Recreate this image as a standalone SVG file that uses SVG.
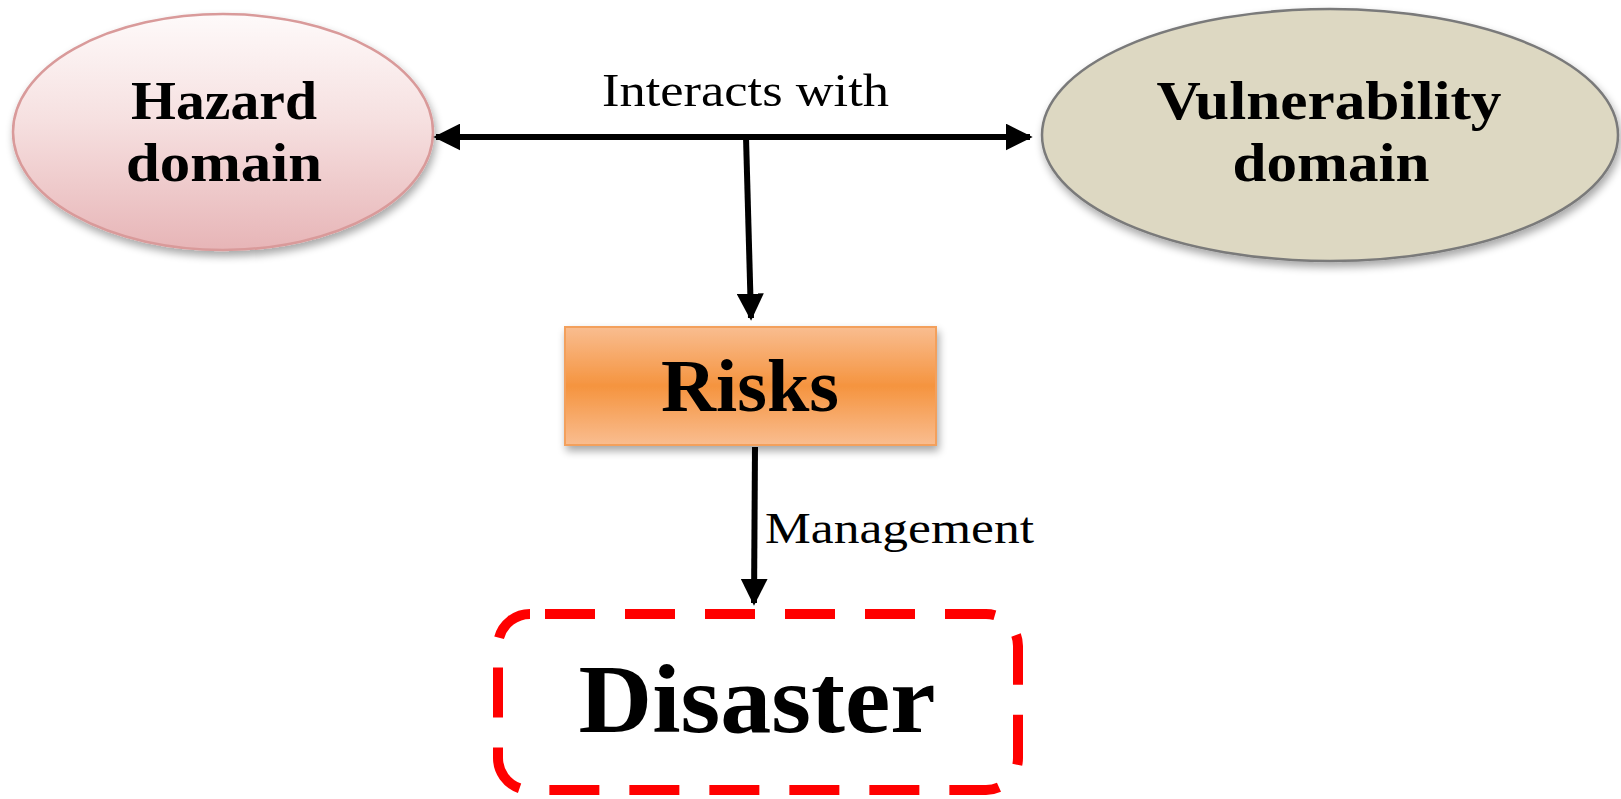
<svg xmlns="http://www.w3.org/2000/svg" width="1621" height="799" viewBox="0 0 1621 799">
<defs>
<linearGradient id="gHaz" x1="0" y1="0" x2="0" y2="1">
<stop offset="0" stop-color="#fefafa"/>
<stop offset="0.45" stop-color="#f6e0e0"/>
<stop offset="1" stop-color="#e7b5b7"/>
</linearGradient>
<linearGradient id="gRisk" x1="0" y1="0" x2="0" y2="1">
<stop offset="0" stop-color="#f9bd90"/>
<stop offset="0.5" stop-color="#f5943f"/>
<stop offset="1" stop-color="#f9bd90"/>
</linearGradient>
<filter id="sh" x="-10%" y="-10%" width="125%" height="130%">
<feGaussianBlur in="SourceAlpha" stdDeviation="4"/>
<feOffset dx="2" dy="5" result="b"/>
<feComponentTransfer><feFuncA type="linear" slope="0.35"/></feComponentTransfer>
<feMerge><feMergeNode/><feMergeNode in="SourceGraphic"/></feMerge>
</filter>
<marker id="ah" viewBox="0 0 10 10" refX="9" refY="5" markerWidth="4.5" markerHeight="4.5" orient="auto-start-reverse" markerUnits="strokeWidth">
<path d="M0,0 L10,5 L0,10 z" fill="#000"/>
</marker>
<style>
.title{font-family:"Liberation Serif","DejaVu Serif",serif;font-weight:bold;fill:#000;text-anchor:middle}
.lbl{font-family:"Liberation Serif","DejaVu Serif",serif;fill:#000}
.conn{stroke:#000;stroke-width:6;fill:none}
</style>
</defs>
<g id="hazard">
<ellipse cx="223" cy="132" rx="210" ry="118" fill="url(#gHaz)" stroke="#d99a9a" stroke-width="2.5" filter="url(#sh)"/>
<text class="title" x="224" y="119" font-size="54" textLength="186" lengthAdjust="spacingAndGlyphs">Hazard</text>
<text class="title" x="224" y="181" font-size="54" textLength="196" lengthAdjust="spacingAndGlyphs">domain</text>
</g>
<g id="vulnerability">
<ellipse cx="1330" cy="135" rx="288" ry="126" fill="#ddd8c2" stroke="#7a7a7a" stroke-width="2.5" filter="url(#sh)"/>
<text class="title" x="1329" y="119" font-size="54" textLength="345" lengthAdjust="spacingAndGlyphs">Vulnerability</text>
<text class="title" x="1331" y="181" font-size="54" textLength="197" lengthAdjust="spacingAndGlyphs">domain</text>
</g>
<g id="risks">
<rect x="565" y="327" width="371" height="118" fill="url(#gRisk)" stroke="#f3a05c" stroke-width="2" filter="url(#sh)"/>
<text class="title" x="750" y="411" font-size="74" textLength="178" lengthAdjust="spacingAndGlyphs">Risks</text>
</g>
<g id="disaster">
<rect x="498" y="614" width="520" height="176" rx="32" ry="32" fill="none" stroke="#ff0000" stroke-width="10" stroke-dasharray="50 30" stroke-dashoffset="-15"/>
<text class="title" x="757" y="732" font-size="98" textLength="357" lengthAdjust="spacingAndGlyphs">Disaster</text>
</g>
<g id="connectors">
<line class="conn" x1="436" y1="137" x2="1030" y2="137" marker-start="url(#ah)" marker-end="url(#ah)"/>
<line class="conn" x1="746" y1="137" x2="751" y2="318" marker-end="url(#ah)"/>
<line class="conn" x1="755" y1="447" x2="754" y2="603" marker-end="url(#ah)"/>
<text class="lbl" x="602" y="106" font-size="46" textLength="287" lengthAdjust="spacingAndGlyphs">Interacts with</text>
<text class="lbl" x="765" y="543" font-size="44" textLength="269" lengthAdjust="spacingAndGlyphs">Management</text>
</g>
</svg>
